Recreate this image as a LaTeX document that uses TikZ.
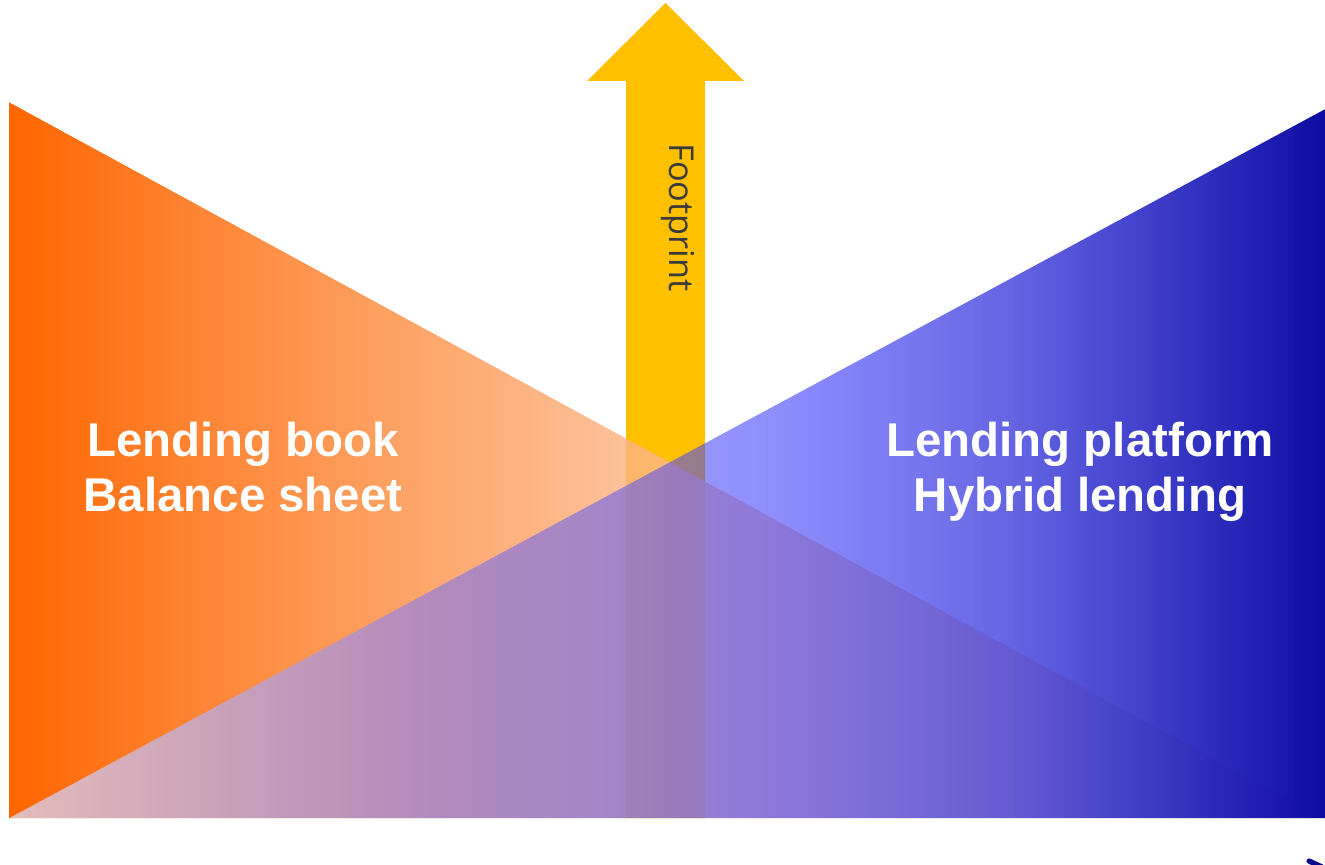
\documentclass[tikz,border=0pt]{standalone}
\usepackage{fontspec}
\setmainfont{Liberation Sans}
\newfontfamily\stemfont{Open Sans}
\usetikzlibrary{fadings}

% palette
\definecolor{footyellow}{RGB}{255,192,0}
\definecolor{labelgray}{RGB}{58,58,58}
\definecolor{deepblue}{RGB}{10,10,140}
% orange wedge colour stops
\definecolor{orA}{RGB}{255,102,0}
\definecolor{orB}{RGB}{252,182,133}
\definecolor{orC}{RGB}{255,235,220}
% blue wedge colour stops
\definecolor{blA}{RGB}{219,219,251}
\definecolor{blB}{RGB}{152,132,224}
\definecolor{blC}{RGB}{107,98,236}
\definecolor{blD}{RGB}{53,53,255}
\definecolor{blE}{RGB}{24,24,215}
\definecolor{blF}{RGB}{10,10,160}

% orange wedge: colour and opacity, left to right
\pgfdeclarehorizontalshading{bookshade}{100bp}{color(0bp)=(orA); color(25bp)=(orA); color(49bp)=(orB); color(75bp)=(orC); color(100bp)=(orC)}
\pgfdeclarehorizontalshading{bookalpha}{100bp}{color(0bp)=(white); color(25bp)=(white); color(75bp)=(white!62!black); color(100bp)=(white!62!black)}
\pgfdeclarefading{bookfade}{\pgfuseshading{bookalpha}}

% blue wedge: colour and opacity, left to right
\pgfdeclarehorizontalshading{platformshade}{100bp}{color(0bp)=(blA); color(25bp)=(blA); color(39.85bp)=(blB); color(47.45bp)=(blC); color(53.5bp)=(blD); color(62.65bp)=(blE); color(75bp)=(blF); color(100bp)=(blF)}
\pgfdeclarehorizontalshading{platformalpha}{100bp}{color(0bp)=(white!75!black); color(25bp)=(white!75!black); color(39.85bp)=(white!70!black); color(47.45bp)=(white!60!black); color(53.5bp)=(white!55!black); color(62.65bp)=(white!66!black); color(75bp)=(white); color(100bp)=(white)}
\pgfdeclarefading{platformfade}{\pgfuseshading{platformalpha}}

\tikzset{
  wedgelabel/.style={text=white, font=\fontsize{27}{31.2}\selectfont\bfseries, align=center, inner sep=0pt},
  axislabel/.style={text=labelgray, font=\stemfont\fontsize{19.5}{23}\selectfont, inner sep=0pt, rotate=-90, anchor=base west}
}

\begin{document}
\begin{tikzpicture}[x=0.02cm, y=-0.02cm]
\useasboundingbox (0,0) rectangle (1325,865);
\clip (0,0) rectangle (1325,865);
\fill[white] (0,0) rectangle (1325,865);

% footprint arrow (behind both wedges)
\fill[footyellow] (626,818) -- (626,81) -- (587,81) -- (665.5,3) -- (744,81) -- (705,81) -- (705,818) -- cycle;

% balance-sheet wedge
\shade[shading=bookshade, path fading=bookfade, fit fading=true] (10,102) -- (10,818) -- (1325,818) -- cycle;

% platform wedge (its right side runs past the edge)
\shade[shading=platformshade, path fading=platformfade, fit fading=true] (1331,106.8) -- (1331,818) -- (10,818) -- cycle;

\node[wedgelabel] (book) at (243,466.8) {Lending book\\Balance sheet};
\node[wedgelabel] (platform) at (1080,471.9) {Lending platform\\Hybrid lending};
\node[axislabel] (footprint) at (669,143) {Footprint};

% stray mark at the lower right edge
\draw[deepblue, line width=3pt, line cap=round] (1309,861) -- (1322,867);
\end{tikzpicture}
\end{document}
